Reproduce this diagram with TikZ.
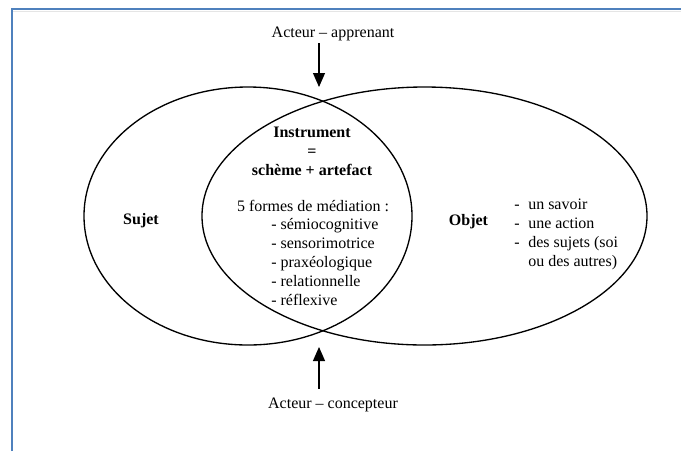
\documentclass[tikz,border=0pt]{standalone}
\usepackage{fontspec}
\setmainfont{Liberation Serif}
\usetikzlibrary{arrows.meta,shapes.geometric}
\definecolor{frameblue}{RGB}{79,129,189}

\begin{document}
\begin{tikzpicture}[x=0.75pt,y=-0.75pt,
  every node/.style={font=\fontsize{12}{14.25}\selectfont},
  lbl/.style={inner sep=0pt},
  boldlbl/.style={inner sep=0pt,font=\fontsize{12}{14.25}\selectfont\bfseries},
  zone/.style={draw,ellipse,line width=1pt,inner sep=0pt},
  arr/.style={-{Triangle[length=10.5pt,width=9pt]},line width=0.8pt}]
  \useasboundingbox (0,0) rectangle (681,451);
  % frame
  \draw[gray!20, line width=1pt] (13,11.5) -- (681,11.5);
  \draw[frameblue, line width=1.5pt] (12,451) -- (12,9) -- (681,9);

  % the two zones
  \node[zone, minimum width=246pt, minimum height=193.5pt] (sujetE) at (248,216) {};
  \node[zone, minimum width=333.75pt, minimum height=193.5pt] (objetE) at (424.5,216) {};

  % actors
  \coordinate (topX) at (319,87);
  \coordinate (botX) at (319,347);
  \node[lbl, anchor=base] (acteurA) at (333,37) {Acteur -- apprenant};
  \node[lbl, anchor=base] (acteurC) at (333,408) {Acteur -- concepteur};
  \draw[arr, shorten <=2pt] (topX |- acteurA.south) -- (topX);
  \draw[arr, shorten <=6.5pt] (botX |- acteurC.north) -- (botX);

  % labels
  \node[boldlbl, anchor=base] (sujet) at (141,224) {Sujet};
  \node[boldlbl, anchor=base] (objet) at (468.5,225) {Objet};
  \node[boldlbl, align=center] (instr) at (312,151.5) {Instrument\\=\\schème + artefact};
  \node[lbl] (formes) at (313,205.5) {5 formes de médiation :};
  \node[lbl, align=left, anchor=west] (mediations) at (271,262.5)
    {- sémiocognitive\\- sensorimotrice\\- praxéologique\\- relationnelle\\- réflexive};
  \node[lbl, align=left, anchor=west] (objlist) at (514,234)
    {-\hspace{6.5pt}un savoir\\-\hspace{6.5pt}une action\\-\hspace{6.5pt}des sujets (soi\\\phantom{-}\hspace{6.5pt}ou des autres)};
\end{tikzpicture}
\end{document}
